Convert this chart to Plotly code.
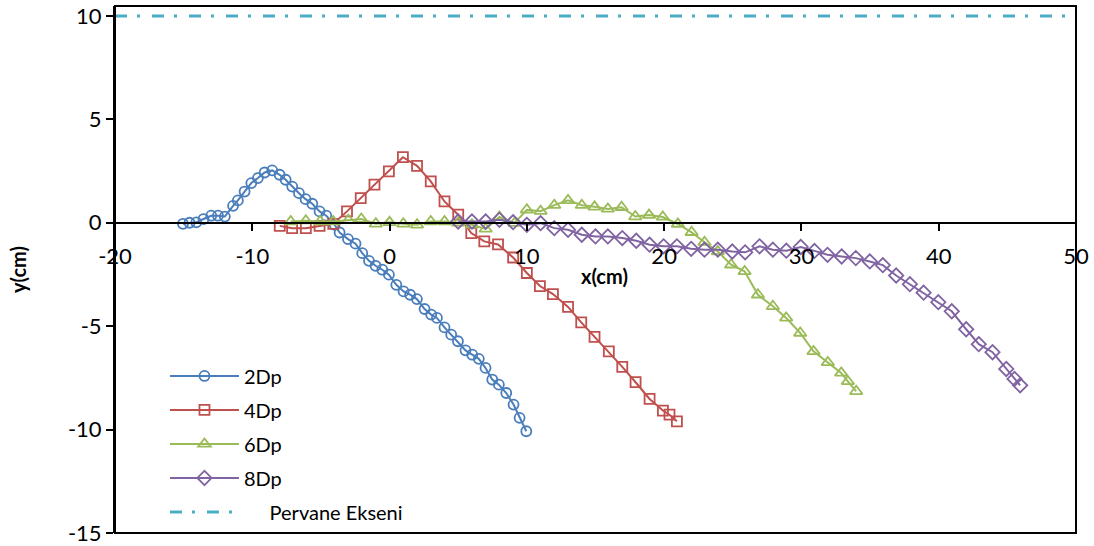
import plotly.graph_objects as go

# ---- data ----
x_2dp = [-15.05, -14.57, -14.08, -13.55, -12.99, -12.5, -12.0, -11.4, -11.05, -10.56,
         -10.07, -9.59, -9.1, -8.55, -8.01, -7.57, -7.09, -6.6, -6.12, -5.63,
         -5.1, -4.61, -4.0, -3.64, -3.03, -2.48, -1.99, -1.5, -1.02, -0.53,
         -0.05, 0.49, 1.02, 1.5, 1.99, 2.55, 3.03, 3.45, 4.0, 4.49,
         4.98, 5.53, 6.02, 6.5, 6.99, 7.48, 7.96, 8.5, 9.03, 9.47, 9.96]
y_2dp = [-0.05, 0.0, 0.02, 0.18, 0.34, 0.34, 0.3, 0.82, 1.08, 1.51,
         1.92, 2.16, 2.43, 2.53, 2.32, 2.08, 1.75, 1.43, 1.14, 0.92,
         0.55, 0.34, -0.1, -0.47, -0.79, -1.01, -1.47, -1.84, -2.08, -2.27,
         -2.51, -3.0, -3.32, -3.48, -3.69, -4.17, -4.44, -4.6, -5.06, -5.41,
         -5.73, -6.17, -6.38, -6.58, -7.02, -7.58, -7.83, -8.23, -8.79, -9.43, -10.08]

x_4dp = [-8.0, -7.1, -6.1, -5.1, -4.1, -3.1, -2.1, -1.1, -0.05, 0.97,
         2.0, 3.0, 4.0, 5.0, 5.95, 6.9, 7.9, 9.0, 10.0, 10.95,
         11.9, 13.0, 13.96, 14.93, 15.97, 16.95, 17.92, 18.94, 19.91, 20.39, 20.93]
y_4dp = [-0.15, -0.26, -0.26, -0.15, -0.05, 0.55, 1.19, 1.84, 2.48, 3.17,
         2.75, 2.0, 1.03, 0.39, -0.5, -0.9, -1.05, -1.68, -2.43, -3.06,
         -3.45, -4.07, -4.82, -5.52, -6.22, -6.97, -7.71, -8.52, -9.08, -9.28, -9.6]

x_6dp = [-7.2, -6.1, -5.05, -4.1, -3.0, -2.06, -1.0, 0.0, 1.0, 2.0,
         3.0, 4.0, 5.0, 6.0, 7.0, 8.0, 9.1, 10.0, 11.0, 12.0,
         13.0, 14.0, 14.93, 15.9, 16.9, 17.9, 18.9, 19.9, 21.0, 22.0,
         22.94, 23.91, 24.88, 25.86, 26.83, 27.92, 28.89, 29.91, 30.88, 31.92,
         32.9, 33.38, 33.99]
y_6dp = [0.06, 0.1, 0.06, 0.06, 0.12, 0.18, -0.05, 0.02, -0.05, -0.1,
         0.06, 0.06, 0.0, -0.1, -0.3, 0.28, -0.02, 0.63, 0.56, 0.85,
         1.08, 0.85, 0.77, 0.67, 0.75, 0.3, 0.37, 0.28, -0.06, -0.46,
         -0.94, -1.39, -2.03, -2.35, -3.48, -4.04, -4.6, -5.33, -6.22, -6.75,
         -7.26, -7.67, -8.15]

x_8dp = [5.0, 6.0, 7.0, 8.0, 9.0, 10.0, 11.0, 12.0, 13.0, 14.0,
         15.0, 15.9, 16.95, 17.97, 18.94, 19.96, 20.93, 21.97, 22.94, 23.91,
         24.96, 25.9, 26.95, 27.92, 28.9, 29.95, 30.95, 31.9, 32.93, 33.96,
         34.98, 35.93, 36.9, 37.9, 38.9, 39.97, 40.95, 42.0, 42.92, 43.92,
         44.92, 45.52, 45.93]
y_8dp = [0.06, 0.06, 0.06, 0.14, 0.03, -0.1, -0.02, -0.26, -0.34, -0.58,
         -0.66, -0.66, -0.74, -0.87, -1.06, -1.14, -1.14, -1.26, -1.3, -1.3,
         -1.39, -1.43, -1.14, -1.3, -1.35, -1.17, -1.36, -1.55, -1.63, -1.71,
         -1.87, -2.05, -2.55, -2.97, -3.38, -3.84, -4.28, -5.15, -5.87, -6.26,
         -7.07, -7.55, -7.86]

x_axis_line = [-20, 50]
y_axis_line = [10, 10]

x_ticks = [-20, -10, 0, 10, 20, 30, 40, 50]
y_ticks = [-15, -10, -5, 0, 5, 10]

FONT = "Lato"
Y_MIN, Y_MAX = -15, 10.48

fig = go.Figure()

series = [
    ("2Dp", x_2dp, y_2dp, "#4A7EBB", "circle-open", 10),
    ("4Dp", x_4dp, y_4dp, "#C0504D", "square-open", 10),
    ("6Dp", x_6dp, y_6dp, "#9BBB59", "triangle-up-open", 11),
    ("8Dp", x_8dp, y_8dp, "#8064A2", "diamond-open", 11),
]
for name, xs, ys, col, sym, sz in series:
    fig.add_trace(go.Scatter(
        x=xs, y=ys, name=name, mode="lines+markers", legendgroup=name,
        line=dict(color=col, width=2),
        marker=dict(symbol=sym, size=sz, color=col, line=dict(color=col, width=1.8)),
    ))

fig.add_trace(go.Scatter(
    x=x_axis_line, y=y_axis_line, name="\u00a0\u00a0\u00a0\u00a0\u00a0Pervane Ekseni",
    mode="lines", legendgroup="pe",
    line=dict(color="#4BACC6", width=3, dash="12px,10px,3px,12px"),
))

x0_frac = (0 - Y_MIN) / (Y_MAX - Y_MIN)

fig.update_layout(
    width=1094, height=546,
    margin=dict(l=115, r=18, t=6, b=13, autoexpand=False),
    paper_bgcolor="white", plot_bgcolor="white",
    font=dict(family=FONT, size=22, color="black"),
    showlegend=True,
    legend=dict(
        x=0.052, y=0.335, xanchor="left", yanchor="top",
        bgcolor="rgba(0,0,0,0)", borderwidth=0,
        font=dict(family=FONT, size=20, color="black"),
        tracegroupgap=5, itemwidth=69,
    ),
    xaxis=dict(
        range=[-20, 50], tickvals=x_ticks, ticktext=[str(v) for v in x_ticks],
        showgrid=False, zeroline=False, automargin=False,
        showline=True, linecolor="black", linewidth=2,
        ticks="outside", ticklen=7, tickwidth=2, tickcolor="black",
        ticklabelstandoff=7,
        anchor="free", position=x0_frac,
    ),
    yaxis=dict(
        range=[Y_MIN, Y_MAX], tickvals=y_ticks, ticktext=[str(v) for v in y_ticks],
        showgrid=False, zeroline=False, automargin=False,
        showline=True, linecolor="black", linewidth=2,
        ticks="outside", ticklen=7, tickwidth=2, tickcolor="black",
        title=dict(text="<b>y(cm)</b>", font=dict(family=FONT, size=20), standoff=36),
    ),
    annotations=[dict(text="<b>x(cm)</b>", xref="x", yref="paper", x=15.66,
                      y=(533 - 276) / 527, showarrow=False,
                      font=dict(family=FONT, size=20, color="black"),
                      xanchor="center", yanchor="middle")],
    shapes=[dict(type="rect", xref="paper", yref="paper", x0=0, x1=1, y0=0, y1=1,
                 line=dict(color="black", width=2), layer="above")],
)

fig.write_html("out.html")
